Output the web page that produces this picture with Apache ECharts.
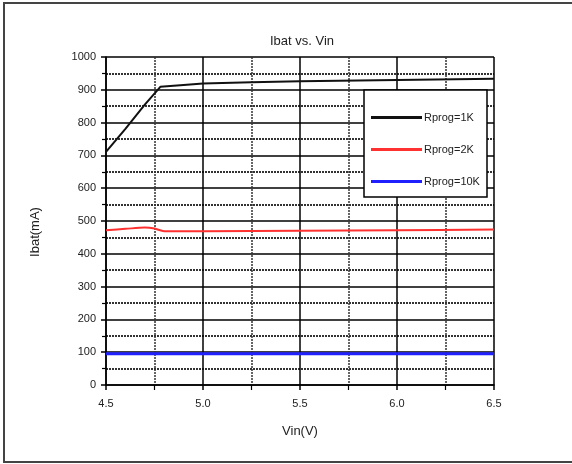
<!DOCTYPE html>
<html><head><meta charset="utf-8">
<script src="https://cdn.jsdelivr.net/npm/echarts@6/dist/echarts.min.js"></script>
<style>html,body{margin:0;padding:0;background:#fff;}#c{width:572px;height:464px;}</style>
</head><body><div id="c"></div>
<script>
const titleText = 'Ibat vs. Vin';
const xName = 'Vin(V)';
const yName = 'Ibat(mA)';
const seriesNames = ['Rprog=1K', 'Rprog=2K', 'Rprog=10K'];
const seriesColors = ['#111111', '#ff3030', '#2020ff'];
const rprog1K = [[4.5,711],[4.6,781],[4.7,855],[4.78,909],[4.9,915],[5.0,919],[5.25,923],[5.5,926],[6.0,930],[6.5,934]];
const rprog2K = [[4.5,472],[4.6,476],[4.7,480],[4.75,477],[4.8,469],[5.0,469],[5.5,470],[6.0,472],[6.5,474]];
const rprog10K = [[4.5,95],[5.0,95],[5.5,95],[6.0,95],[6.5,95]];

const chart = echarts.init(document.getElementById('c'), null, {renderer:'canvas'});
const font = 'Liberation Sans';
chart.setOption({
  animation:false,
  backgroundColor:'#fff',
  title:{text:titleText,left:297,top:30,textAlign:'center',
    textStyle:{fontFamily:font,fontSize:13,fontWeight:'normal',color:'#222'}},
  grid:{left:106,right:78,top:57,bottom:79,containLabel:false},
  legend:{orient:'vertical',left:371,top:112,padding:0,itemWidth:51,itemHeight:3,itemGap:21,icon:'rect',z:20,
    textStyle:{fontFamily:font,fontSize:11,color:'#222',padding:[0,0,0,-3]},
    data:seriesNames.map((n,i)=>({name:n,itemStyle:{color:seriesColors[i]}}))},
  xAxis:{type:'value',min:4.5,max:6.5,interval:0.5,
    name:xName,nameLocation:'middle',nameGap:40,
    nameTextStyle:{fontFamily:font,fontSize:13,color:'#222'},
    axisLine:{show:true,onZero:false,lineStyle:{color:'#000',width:1.5}},
    axisTick:{show:true,length:5,lineStyle:{color:'#000',width:1.5}},
    minorTick:{show:true,splitNumber:2,length:5,lineStyle:{color:'#000',width:1.2}},
    axisLabel:{margin:13,fontFamily:font,fontSize:11,color:'#222',formatter:v=>v.toFixed(1)},
    splitLine:{show:true,lineStyle:{color:'#000',width:1.5}},
    minorSplitLine:{show:true,lineStyle:{color:'#333',width:1.5,type:[2,1]}}},
  yAxis:{type:'value',min:0,max:1000,interval:100,
    name:yName,nameLocation:'middle',nameGap:64,
    nameTextStyle:{fontFamily:font,fontSize:13,color:'#222',padding:[0,22,0,0]},
    axisLine:{show:true,lineStyle:{color:'#000',width:1.5}},
    axisTick:{show:true,length:5,lineStyle:{color:'#000',width:1.5}},
    minorTick:{show:true,splitNumber:2,length:4,lineStyle:{color:'#000',width:1.2}},
    axisLabel:{margin:10,fontFamily:font,fontSize:11,color:'#222',formatter:v=>String(v)},
    splitLine:{show:true,lineStyle:{color:'#000',width:1.5}},
    minorSplitLine:{show:true,lineStyle:{color:'#333',width:2,type:[2,1]}}},
  graphic:[
    {type:'rect',shape:{x:4,y:3,width:580,height:459},style:{fill:'none',stroke:'#444',lineWidth:2},z:100,silent:true},
    {type:'rect',shape:{x:364,y:90,width:123,height:107},style:{fill:'#fff',stroke:'#000',lineWidth:1.5},z:15,silent:true}
  ],
  series:[
    {name:seriesNames[0],type:'line',data:rprog1K,symbol:'none',lineStyle:{color:seriesColors[0],width:2},itemStyle:{color:seriesColors[0]},z:3},
    {name:seriesNames[1],type:'line',data:rprog2K,symbol:'none',smooth:0.3,lineStyle:{color:seriesColors[1],width:2},itemStyle:{color:seriesColors[1]},z:3},
    {name:seriesNames[2],type:'line',data:rprog10K,symbol:'none',lineStyle:{color:seriesColors[2],width:3},itemStyle:{color:seriesColors[2]},z:3}
  ]
});
</script></body></html>
